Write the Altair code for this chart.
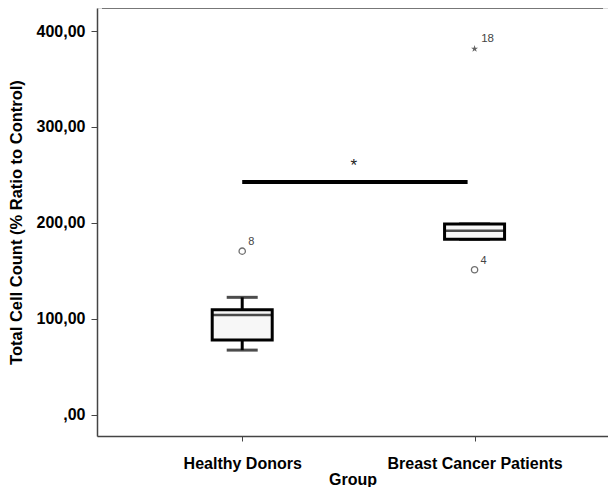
import altair as alt
import pandas as pd

# ---- data ----
groups = ["Healthy Donors", "Breast Cancer Patients"]
group_pos = [1, 2]
whisker_low = [67.5, 183.0]
q1 = [78.0, 183.0]
median = [104.0, 192.0]
q3 = [109.5, 199.0]
whisker_high = [122.5, 199.0]

outlier_group = [1, 2]
outlier_value = [170.6, 151.3]
outlier_label = ["8", "4"]

extreme_group = [2]
extreme_value = [381.5]
extreme_label = ["18"]

sig_from = [1.0]
sig_to = [1.97]
sig_value = [242.8]
sig_text_pos = [1.48]
sig_text_value = [259.0]
sig_text = ["*"]

y_ticks = [0, 100, 200, 300, 400]
Y_MIN, Y_MAX = -22, 424
W, H = 511, 428
X_MIN = 0.3966
X_MAX = X_MIN + W / 237.0

FONT = "Liberation Sans"

boxes = pd.DataFrame({"g": group_pos, "name": groups, "lo": whisker_low, "q1": q1,
                      "med": median, "q3": q3, "hi": whisker_high})
outl = pd.DataFrame({"g": outlier_group, "v": outlier_value, "lab": outlier_label})
ext = pd.DataFrame({"g": extreme_group, "v": extreme_value, "lab": extreme_label})
sig = pd.DataFrame({"a": sig_from, "b": sig_to, "v": sig_value})
sigt = pd.DataFrame({"g": sig_text_pos, "v": sig_text_value, "t": sig_text})

label_expr = ("datum.value == 1 ? '" + groups[0] + "' : datum.value == 2 ? '" + groups[1] + "' : ''")

x_scale = alt.Scale(domain=[X_MIN, X_MAX], nice=False, zero=False)
y_scale = alt.Scale(domain=[Y_MIN, Y_MAX], nice=False, zero=False)

x_axis = alt.Axis(values=group_pos, labelExpr=label_expr, title="Group", grid=False,
                  tickSize=5, labelPadding=14, titlePadding=0,
                  labelFont=FONT, labelFontSize=16, labelFontWeight="bold", labelColor="black",
                  titleFont=FONT, titleFontSize=16, titleFontWeight="bold", titleColor="black",
                  domainColor="#444", tickColor="#444", domainWidth=1.5)
y_axis = alt.Axis(values=y_ticks,
                  labelExpr="datum.value == 0 ? ',00' : replace(format(datum.value, '.2f'), '.', ',')",
                  title="Total Cell Count (% Ratio to Control)", grid=False,
                  tickSize=6, labelPadding=6, titlePadding=12,
                  labelFont=FONT, labelFontSize=16, labelFontWeight="bold", labelColor="black",
                  titleFont=FONT, titleFontSize=16.5, titleFontWeight="bold", titleColor="black",
                  domainColor="#444", tickColor="#444", domainWidth=1.5)

base = alt.Chart(boxes)

whisk_lo = base.mark_rule(color="black", strokeWidth=3).encode(
    x=alt.X("g:Q", scale=x_scale, axis=x_axis),
    y=alt.Y("lo:Q", scale=y_scale, axis=y_axis),
    y2="q1:Q")
whisk_hi = base.mark_rule(color="black", strokeWidth=3).encode(
    x="g:Q", y="q3:Q", y2="hi:Q")
cap_lo = base.mark_tick(orient="horizontal", color="black", size=31, thickness=3).encode(
    x="g:Q", y="lo:Q")
cap_hi = base.mark_tick(orient="horizontal", color="black", size=31, thickness=3).encode(
    x="g:Q", y="hi:Q")
box = base.mark_bar(size=60, fill="#f7f7f7", stroke="black", strokeWidth=3).encode(
    x="g:Q", y="q1:Q", y2="q3:Q")
med = base.mark_tick(orient="horizontal", color="black", size=60, thickness=2.5).encode(
    x="g:Q", y="med:Q")

out_pts = alt.Chart(outl).mark_point(shape="circle", filled=False, color="#333",
                                     size=40, strokeWidth=1.3).encode(x="g:Q", y="v:Q")
out_lab = alt.Chart(outl).mark_text(font=FONT, fontSize=11, color="#444", dx=9, dy=-9).encode(
    x="g:Q", y="v:Q", text="lab:N")

star_path = ("M0,-1L0.2245,-0.309L0.951,-0.309L0.363,0.118L0.588,0.809L0,0.382"
             "L-0.588,0.809L-0.363,0.118L-0.951,-0.309L-0.2245,-0.309Z")
ext_pts = alt.Chart(ext).mark_point(shape=star_path, filled=True, color="#222", size=55).encode(
    x="g:Q", y="v:Q")
ext_lab = alt.Chart(ext).mark_text(font=FONT, fontSize=11.5, color="#444", dx=13, dy=-10).encode(
    x="g:Q", y="v:Q", text="lab:N")

sig_line = alt.Chart(sig).mark_rule(color="black", strokeWidth=4).encode(
    x="a:Q", x2="b:Q", y="v:Q")
sig_star = alt.Chart(sigt).mark_text(font=FONT, fontSize=17, color="#222").encode(
    x="g:Q", y="v:Q", text="t:N")

top_frame = alt.Chart(pd.DataFrame({"a": [X_MIN], "b": [X_MAX], "v": [Y_MAX]})).mark_rule(
    color="#555", strokeWidth=1.5).encode(x="a:Q", x2="b:Q", y="v:Q")

chart = alt.layer(whisk_lo, whisk_hi, cap_lo, cap_hi, box, med, out_pts, out_lab,
                  ext_pts, ext_lab, sig_line, sig_star, top_frame).properties(
    width=W, height=H,
    autosize=alt.AutoSizeParams(type="none"),
    padding={"left": 89, "top": 0, "right": 0, "bottom": 51},
).configure_view(stroke=None).configure(background="white")

chart.save("out.html", embed_options={"renderer": "svg", "actions": False})
